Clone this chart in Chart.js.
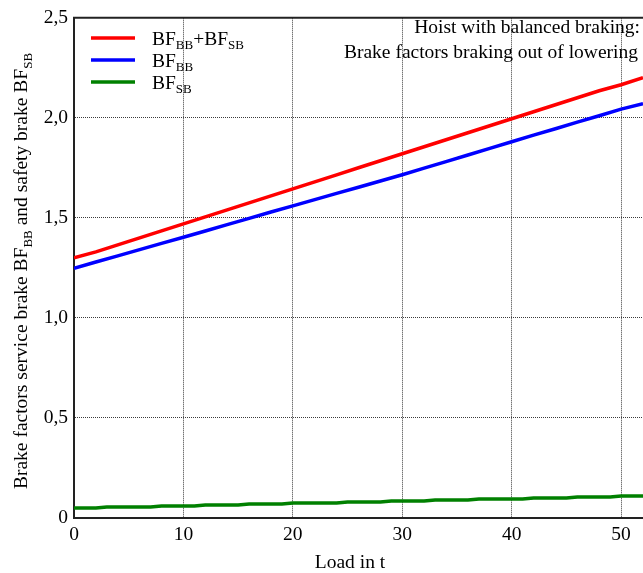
<!DOCTYPE html>
<html>

<head>
    <meta charset="utf-8">
    <title>Brake factors</title>
    <script src="https://cdn.jsdelivr.net/npm/chart.js"></script>
    <style>
        html, body { margin: 0; padding: 0; background: #fff; }
        #wrap { width: 643px; height: 573px; }
    </style>
</head>

<body>
    <div id="wrap"><canvas id="brake-chart"></canvas></div>
    <script>
        // load in t (red / blue sampled every 2 t)
        const loadRB = [0, 2, 4, 6, 8, 10, 12, 14, 16, 18, 20, 22, 24, 26, 28, 30, 32, 34, 36, 38, 40, 42, 44, 46, 48, 50, 52];
        // BF_BB + BF_SB
        const bfTotal = [1.300, 1.330, 1.365, 1.400, 1.435, 1.470, 1.505, 1.540, 1.575, 1.610, 1.645, 1.680, 1.715, 1.750,
            1.785, 1.820, 1.855, 1.890, 1.925, 1.960, 1.995, 2.030, 2.065, 2.100, 2.135, 2.165, 2.200];
        // BF_BB
        const bfBB = [1.248, 1.279, 1.310, 1.341, 1.372, 1.403, 1.434, 1.466, 1.497, 1.529, 1.560, 1.591, 1.622, 1.653,
            1.684, 1.715, 1.748, 1.781, 1.814, 1.847, 1.880, 1.913, 1.945, 1.978, 2.010, 2.043, 2.070];
        // BF_SB, every 1 t
        const loadSB = [0, 1, 2, 3, 4, 5, 6, 7, 8, 9, 10, 11, 12, 13, 14, 15, 16, 17, 18, 19, 20, 21, 22, 23, 24, 25, 26,
            27, 28, 29, 30, 31, 32, 33, 34, 35, 36, 37, 38, 39, 40, 41, 42, 43, 44, 45, 46, 47, 48, 49, 50, 51, 52];
        const bfSB = [0.050, 0.050, 0.050, 0.055, 0.055, 0.055, 0.055, 0.055, 0.060, 0.060, 0.060, 0.060, 0.065, 0.065,
            0.065, 0.065, 0.070, 0.070, 0.070, 0.070, 0.075, 0.075, 0.075, 0.075, 0.075, 0.080, 0.080, 0.080, 0.080,
            0.085, 0.085, 0.085, 0.085, 0.090, 0.090, 0.090, 0.090, 0.095, 0.095, 0.095, 0.095, 0.095, 0.100, 0.100,
            0.100, 0.100, 0.105, 0.105, 0.105, 0.105, 0.110, 0.110, 0.110];

        const xTicks = [0, 10, 20, 30, 40, 50];
        const yTicks = [0, 0.5, 1.0, 1.5, 2.0, 2.5];
        const yTickLabels = ['0', '0,5', '1,0', '1,5', '2,0', '2,5'];

        const serif = '"Liberation Serif", "Times New Roman", serif';

        const pts = (xs, ys) => xs.map((x, i) => ({ x: x, y: ys[i] }));

        // text with subscripts: parts = [[text, isSub], ...]
        function measureParts(ctx, parts, size, subSize) {
            let w = 0;
            parts.forEach(p => {
                ctx.font = (p[1] ? subSize : size) + 'px ' + serif;
                w += ctx.measureText(p[0]).width;
            });
            return w;
        }
        function drawParts(ctx, parts, x, y, size, subSize, subShift) {
            parts.forEach(p => {
                ctx.font = (p[1] ? subSize : size) + 'px ' + serif;
                ctx.fillText(p[0], x, p[1] ? y + subShift : y);
                x += ctx.measureText(p[0]).width;
            });
        }

        const extras = {
            id: 'extras',
            afterDraw(chart) {
                const ctx = chart.ctx;
                const a = chart.chartArea;
                ctx.save();
                // top frame line
                ctx.strokeStyle = '#222';
                ctx.lineWidth = 2;
                ctx.beginPath();
                ctx.moveTo(a.left - 1, a.top);
                ctx.lineTo(a.right, a.top);
                ctx.stroke();

                ctx.fillStyle = '#000';
                ctx.textBaseline = 'alphabetic';

                // legend
                const legend = [
                    ['#ff0000', [['BF', false], ['BB', true], ['+BF', false], ['SB', true]]],
                    ['#0000ff', [['BF', false], ['BB', true]]],
                    ['#008000', [['BF', false], ['SB', true]]]
                ];
                legend.forEach((item, i) => {
                    const cy = 38 + i * 22;
                    ctx.strokeStyle = item[0];
                    ctx.lineWidth = 3.5;
                    ctx.beginPath();
                    ctx.moveTo(91, cy);
                    ctx.lineTo(135, cy);
                    ctx.stroke();
                    ctx.fillStyle = '#000';
                    drawParts(ctx, item[1], 152, cy + 7, 19.5, 13, 4);
                });

                // annotation
                ctx.font = '19.5px ' + serif;
                ctx.textAlign = 'right';
                ctx.fillText('Hoist with balanced braking:', 640, 33);
                ctx.fillText('Brake factors braking out of lowering', 638, 58);

                // x title
                ctx.textAlign = 'center';
                ctx.fillText('Load in t', 350, 568);

                // y title
                ctx.textAlign = 'left';
                const yParts = [['Brake factors service brake BF', false], ['BB', true],
                    [' and safety brake BF', false], ['SB', true]];
                const w = measureParts(ctx, yParts, 19.5, 13);
                ctx.translate(27, 271);
                ctx.rotate(-Math.PI / 2);
                drawParts(ctx, yParts, -w / 2, 0, 19.5, 13, 5);
                ctx.restore();
            }
        };

        const brakeChart = new Chart(
            document.getElementById('brake-chart'),
            {
                type: 'line',
                data: {
                    datasets: [
                        { label: 'BF_BB+BF_SB', data: pts(loadRB, bfTotal), borderColor: '#ff0000' },
                        { label: 'BF_BB', data: pts(loadRB, bfBB), borderColor: '#0000ff' },
                        { label: 'BF_SB', data: pts(loadSB, bfSB), borderColor: '#008000' }
                    ]
                },
                options: {
                    responsive: true,
                    maintainAspectRatio: false,
                    animation: false,
                    layout: { padding: { top: 13, right: 0, left: 0, bottom: 0 } },
                    elements: {
                        point: { radius: 0 },
                        line: { borderWidth: 3.5, tension: 0 }
                    },
                    plugins: {
                        legend: { display: false },
                        tooltip: { enabled: false }
                    },
                    scales: {
                        x: {
                            type: 'linear',
                            min: 0,
                            max: 52,
                            afterFit: s => { s.height = 55; },
                            afterBuildTicks: s => { s.ticks = xTicks.map(v => ({ value: v })); },
                            ticks: {
                                color: '#000',
                                font: { family: serif, size: 19.5 },
                                padding: 5,
                                maxRotation: 0,
                                callback: v => String(v)
                            },
                            grid: {
                                drawTicks: false,
                                color: c => (c.tick.value === 0 ? 'rgba(0,0,0,0)' : '#3a3a3a'),
                                lineWidth: 1
                            },
                            border: { display: true, color: '#222', width: 2, dash: [1, 1] }
                        },
                        y: {
                            min: 0,
                            max: 2.5,
                            afterFit: s => { s.width = 74; },
                            afterBuildTicks: s => { s.ticks = yTicks.map(v => ({ value: v })); },
                            ticks: {
                                color: '#000',
                                font: { family: serif, size: 19.5 },
                                padding: 6,
                                callback: v => yTickLabels[yTicks.indexOf(v)]
                            },
                            grid: {
                                drawTicks: false,
                                color: c => (c.tick.value === 0 || c.tick.value === 2.5 ? 'rgba(0,0,0,0)' : '#3a3a3a'),
                                lineWidth: 1
                            },
                            border: { display: true, color: '#222', width: 2, dash: [1, 1] }
                        }
                    }
                },
                plugins: [extras]
            }
        );
    </script>
</body>

</html>
